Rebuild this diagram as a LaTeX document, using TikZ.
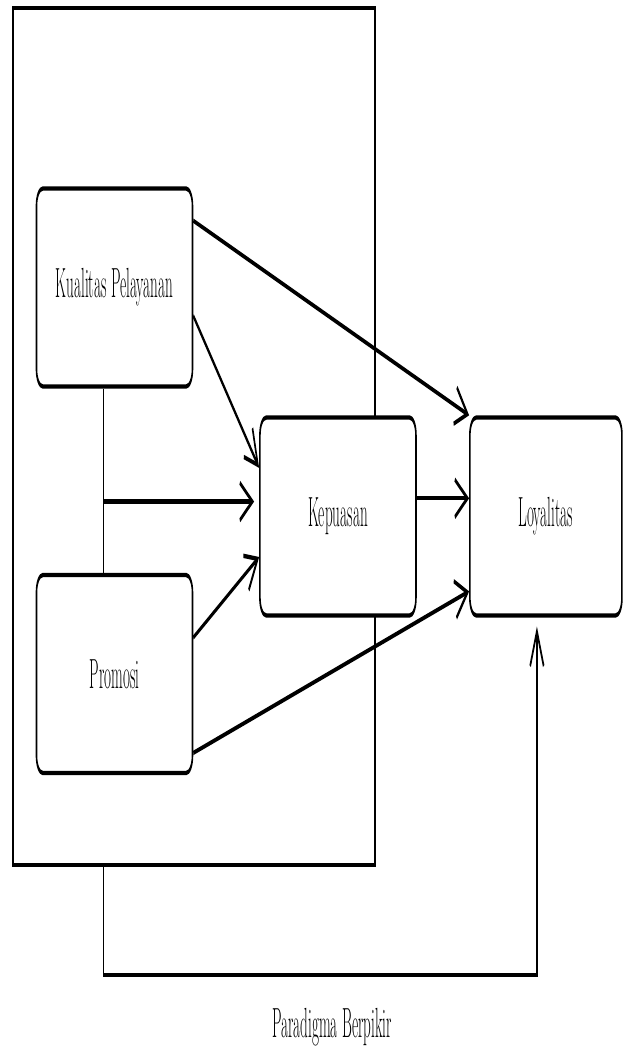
\documentclass[tikz,border=0pt]{standalone}
\usetikzlibrary{calc,arrows.meta}

\begin{document}
\begin{tikzpicture}[x=0.02cm,y=-0.02cm,
    varbox/.style={draw,line width=2.5pt,fill=white,rounded corners=10pt,
      minimum width=8.67cm,minimum height=3.96cm,inner sep=0pt,
      font=\fontsize{24}{28}\selectfont},
    link/.style={line width=2.5pt,-{Straight Barb[length=0.7cm,width=0.75cm]}},
    joint/.style={line width=2.5pt}]
  \useasboundingbox (0,0) rectangle (624,1054);
  \begin{scope}[transform canvas={xscale=0.36},x=0.05556cm]
    \node[draw,line width=2.5pt,inner sep=0pt,minimum width=20.11cm,minimum height=17.14cm] (frame) at (194,436.5) {};
    \node[varbox] (kp) at (114.5,287.5) {Kualitas Pelayanan};
    \node[varbox] (pr) at (114.5,674) {Promosi};
    \node[varbox] (kq) at (338,516.5) {Kepuasan};
    \node[varbox,minimum width=8.45cm] (ly) at (546,516.5) {Loyalitas};

    \coordinate (kpfoot) at ($(kp.south west)!0.43!(kp.south east)$);
    \draw[joint] (kpfoot) -- (kpfoot |- pr.north);
    \coordinate (split) at ($(kpfoot)!0.613!(kpfoot |- pr.north)$);
    \draw[link,shorten >=8pt] (split) -- (split -| kq.west);
    \draw[link] ($(kp.north east)!0.17!(kp.south east)$) -- (ly.north west);
    \draw[link] ($(kp.north east)!0.64!(kp.south east)$) -- ($(kq.north west)!0.26!(kq.south west)$);
    \draw[link] ($(pr.north east)!0.32!(pr.south east)$) -- ($(kq.north west)!0.70!(kq.south west)$);
    \draw[link] ($(pr.north east)!0.89!(pr.south east)$) -- ($(ly.north west)!0.87!(ly.south west)$);
    \draw[link] ($(kq.north east)!0.41!(kq.south east)$) -- ($(ly.north west)!0.41!(ly.south west)$);
    \coordinate (turn) at (537,975);
    \draw[link,shorten >=5pt] (kpfoot |- frame.south) |- (turn) -- (turn |- ly.south);

    \node[font=\fontsize{24}{28}\selectfont] (caption) at (332,1027) {Paradigma Berpikir};
  \end{scope}
\end{tikzpicture}
\end{document}
